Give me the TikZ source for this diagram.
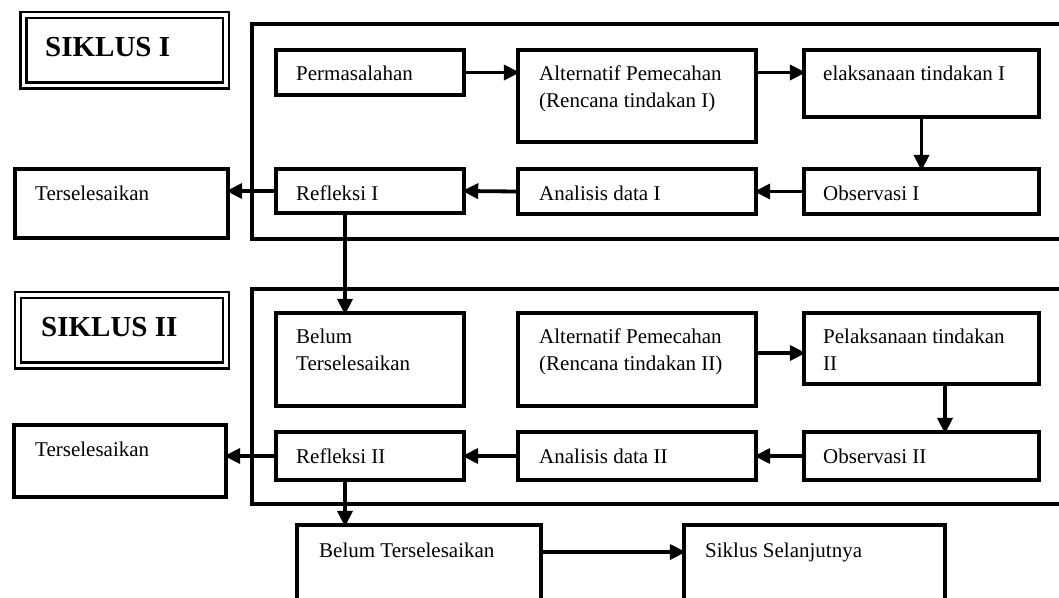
\documentclass[tikz,border=0pt]{standalone}
\usepackage{fontspec}
\setmainfont{Liberation Serif}
\usetikzlibrary{arrows.meta}
\begin{document}
\begin{tikzpicture}[x=1pt,y=-1pt,
  box/.style={draw, line width=3.8pt, inner sep=0pt, outer sep=0pt, anchor=north west},
  frameline/.style={line width=3.8pt},
  titlebox/.style={draw, line width=2.5pt, double=white, double distance=3.5pt, inner sep=0pt, outer sep=0pt, anchor=north west},
  txt/.style={inner sep=0pt, anchor=base west, font=\fontsize{21}{25}\selectfont},
  ttl/.style={inner sep=0pt, anchor=base west, font=\fontsize{29}{34}\selectfont\bfseries},
  arr/.style={line width=3.8pt, -{Triangle[length=16pt,width=15pt]}, shorten >=-1.8pt}
]
\useasboundingbox (0,0) rectangle (1059,597);
\clip (0,0) rectangle (1059,597);

% ---------- Siklus I ----------
\node[titlebox, minimum width=202.5pt, minimum height=70.5pt] (s1) at (23.5,14.75) {};
\node[ttl] (s1t) at (45,56) {SIKLUS I};
\draw[frameline] (1065,24) -- (252,24) -- (252,239) -- (1065,239);

\node[box, minimum width=188pt, minimum height=45pt] (perm) at (276,50) {};
\node[box, minimum width=238pt, minimum height=92pt] (alt1) at (518,50) {};
\node[box, minimum width=235pt, minimum height=67pt] (pel1) at (804,50) {};
\node[box, minimum width=235pt, minimum height=45pt] (obs1) at (804,169) {};
\node[box, minimum width=238pt, minimum height=45pt] (ana1) at (518,169) {};
\node[box, minimum width=188pt, minimum height=44pt] (ref1) at (276,169) {};
\node[box, minimum width=213pt, minimum height=69pt] (ter1) at (15,169) {};

\node[txt] (tperm) at (296,80) {Permasalahan};
\node[txt] (talt1a) at (539,80) {Alternatif Pemecahan};
\node[txt] (talt1b) at (539,107) {(Rencana tindakan I)};
\node[txt] (tpel1) at (823,80) {elaksanaan tindakan I};
\node[txt] (tobs1) at (823,200) {Observasi I};
\node[txt] (tana1) at (539,200) {Analisis data I};
\node[txt] (tref1) at (296,200) {Refleksi I};
\node[txt] (tter1) at (35,200) {Terselesaikan};

\coordinate (c1) at (345,0);
\draw[arr] (perm.east) -- (perm.east -| alt1.west);
\draw[arr] (alt1.east |- perm.east) -- (pel1.west |- perm.east);
\draw[arr] (pel1.south) -- (obs1.north);
\draw[arr] (obs1.west) -- (ana1.east);
\draw[arr] (ana1.west) -- (ref1.east);
\draw[arr] (ref1.west) -- (ter1.east |- ref1.west);

% ---------- Siklus II ----------
\node[titlebox, minimum width=208pt, minimum height=70.5pt] (s2) at (18,294.75) {};
\node[ttl] (s2t) at (41,336) {SIKLUS II};
\draw[frameline] (1065,289) -- (252,289) -- (252,504) -- (1065,504);

\node[box, minimum width=188pt, minimum height=93pt] (bel2) at (276,313) {};
\node[box, minimum width=238pt, minimum height=93pt] (alt2) at (518,313) {};
\node[box, minimum width=235pt, minimum height=71pt] (pel2) at (804,313) {};
\node[box, minimum width=235pt, minimum height=48pt] (obs2) at (804,432) {};
\node[box, minimum width=238pt, minimum height=48pt] (ana2) at (518,432) {};
\node[box, minimum width=188pt, minimum height=48pt] (ref2) at (276,432) {};
\node[box, minimum width=212pt, minimum height=72pt] (ter2) at (14,425) {};

\node[txt] (tbel2a) at (296,343) {Belum};
\node[txt] (tbel2b) at (296,370) {Terselesaikan};
\node[txt] (talt2a) at (539,343) {Alternatif Pemecahan};
\node[txt] (talt2b) at (539,370) {(Rencana tindakan II)};
\node[txt] (tpel2a) at (823,343) {Pelaksanaan tindakan};
\node[txt] (tpel2b) at (823,370) {II};
\node[txt] (tobs2) at (823,463) {Observasi II};
\node[txt] (tana2) at (539,463) {Analisis data II};
\node[txt] (tref2) at (296,463) {Refleksi II};
\node[txt] (tter2) at (35,456) {Terselesaikan};

\draw[arr] (ref1.south -| c1) -- (bel2.north -| c1);
\coordinate (c2) at (0,353);
\coordinate (c3) at (945,0);
\draw[arr] (alt2.east |- c2) -- (pel2.west |- c2);
\draw[arr] (pel2.south -| c3) -- (obs2.north -| c3);
\draw[arr] (obs2.west) -- (ana2.east);
\draw[arr] (ana2.west) -- (ref2.east);
\draw[arr] (ref2.west) -- (ter2.east |- ref2.west);

% ---------- bottom ----------
\node[box, minimum width=244pt, minimum height=95pt] (bel3) at (297,525) {};
\node[box, minimum width=261pt, minimum height=95pt] (sik3) at (684,525) {};
\node[txt] (tbel3) at (319,557) {Belum Terselesaikan};
\node[txt] (tsik3) at (705,557) {Siklus Selanjutnya};

\draw[arr] (ref2.south -| c1) -- (bel3.north -| c1);
\coordinate (c4) at (0,552);
\draw[arr] (bel3.east |- c4) -- (sik3.west |- c4);
\end{tikzpicture}
\end{document}
